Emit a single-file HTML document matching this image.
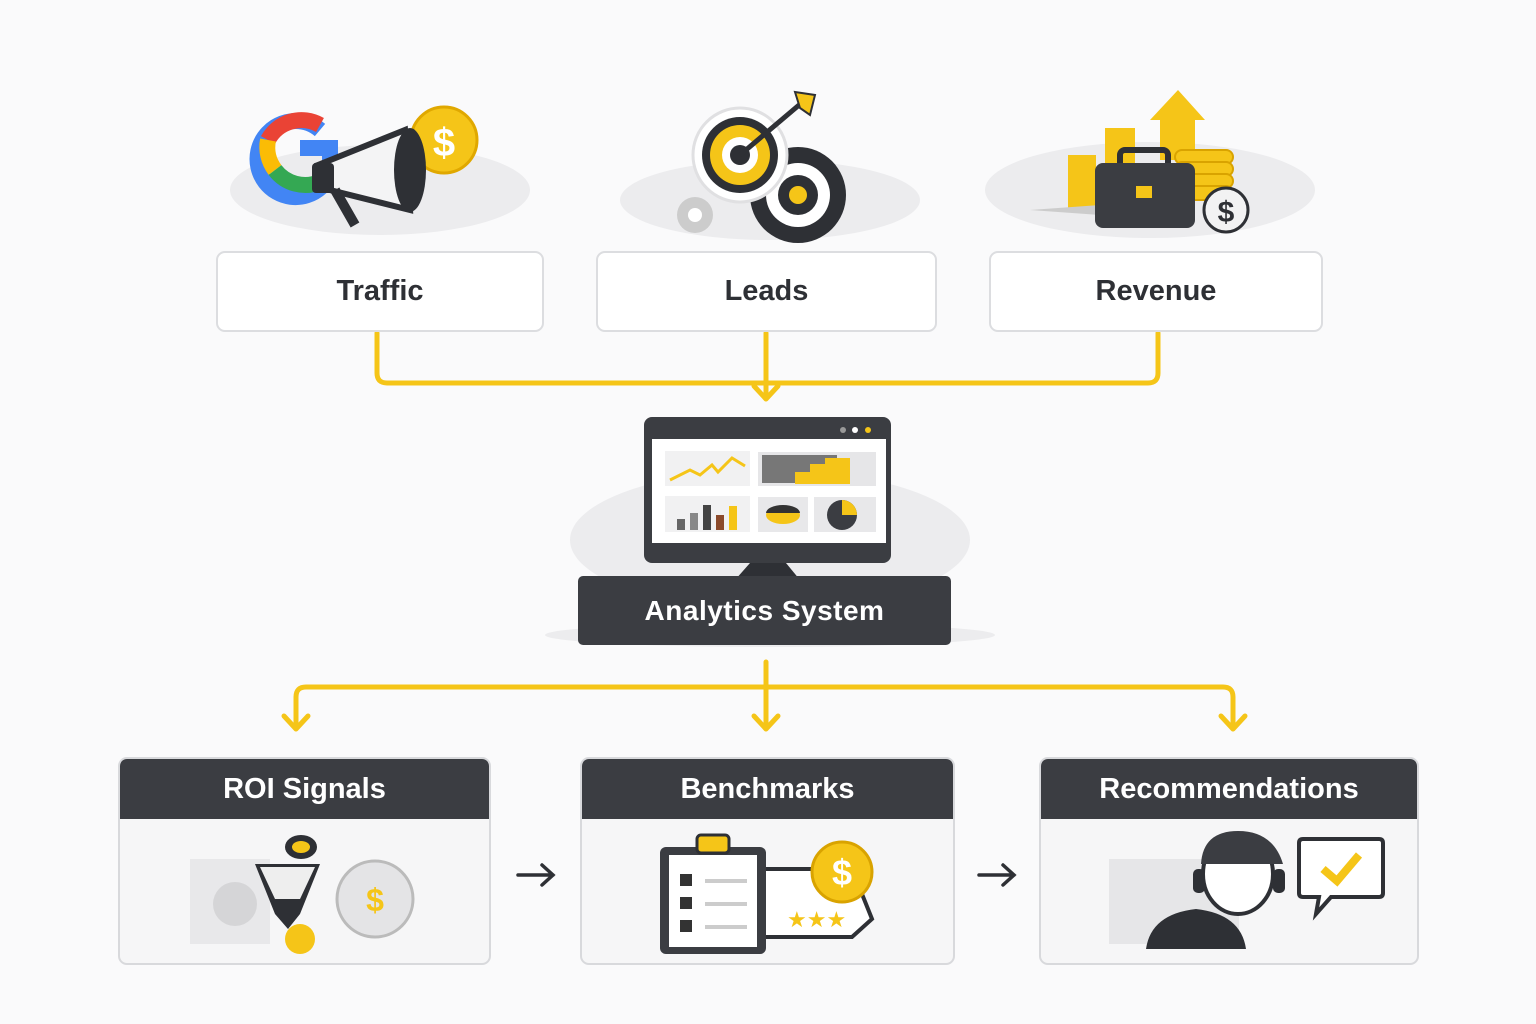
<!DOCTYPE html>
<html><head><meta charset="utf-8"><style>
body{margin:0;width:1536px;height:1024px;background:#fafafb;position:relative;overflow:hidden;font-family:"Liberation Sans",sans-serif}
.box{position:absolute;background:#fff;border:2px solid #dcdde0;border-radius:9px;box-sizing:border-box;display:flex;align-items:center;justify-content:center;font-size:29px;font-weight:bold;color:#2e3035}
.card{position:absolute;background:#f6f6f7;border:2px solid #d8d9dc;border-radius:9px;box-sizing:border-box;overflow:hidden}
.card .h{height:60px;background:#3b3d42;color:#fff;font-size:29px;font-weight:bold;display:flex;align-items:center;justify-content:center}
svg{position:absolute;left:0;top:0}
</style></head><body>
<svg width="1536" height="1024" viewBox="0 0 1536 1024">
<!-- clouds -->
<g fill="#ececee">
<ellipse cx="380" cy="190" rx="150" ry="45"/><ellipse cx="770" cy="200" rx="150" ry="40"/><ellipse cx="1150" cy="190" rx="165" ry="48"/>
<ellipse cx="770" cy="540" rx="200" ry="70"/><ellipse cx="770" cy="635" rx="225" ry="12"/>
</g>
<!-- connectors -->
<g fill="none" stroke="#f5c518" stroke-width="5" stroke-linecap="round" stroke-linejoin="round">
<path d="M377 333 V373 Q377 383 387 383 H1148 Q1158 383 1158 373 V333"/>
<path d="M766 333 V398"/><path d="M754 386 L766 399 L778 386"/>
<path d="M766 662 V728"/><path d="M754 716 L766 729 L778 716"/>
<path d="M296 727 V697 Q296 687 306 687 H1223 Q1233 687 1233 697 V727"/>
<path d="M284 716 L296 729 L308 716"/><path d="M1221 716 L1233 729 L1245 716"/>
</g>
<g stroke="#2e3035" stroke-width="3.5" fill="none" stroke-linecap="round"><path d="M518 875 H553 M542 865 L553 875 L542 885"/><path d="M979 875 H1014 M1003 865 L1014 875 L1003 885"/></g>
<!-- traffic icon -->
<path d="M320 130 A38 38 0 1 0 330 175 L330 148 H300" fill="none" stroke="#4285f4" stroke-width="16"/>
<path d="M320 125 A38 38 0 0 0 268 140" fill="none" stroke="#ea4335" stroke-width="16"/>
<path d="M268 140 A38 38 0 0 0 275 170" fill="none" stroke="#fbbc05" stroke-width="16"/>
<path d="M275 170 A38 38 0 0 0 320 182" fill="none" stroke="#34a853" stroke-width="16"/>
<circle cx="444" cy="140" r="33" fill="#f5c518" stroke="#e0a800" stroke-width="3"/><text x="444" y="156" font-size="40" font-weight="bold" fill="#fff" text-anchor="middle">$</text>
<path d="M318 165 L405 130 L410 210 L330 190 Z" fill="#f4f4f5" stroke="#2e3035" stroke-width="6"/>
<ellipse cx="410" cy="170" rx="16" ry="42" fill="#2e3035"/><path d="M335 190 L355 225" stroke="#2e3035" stroke-width="10"/><rect x="312" y="163" width="22" height="30" fill="#2e3035" rx="4"/>
<!-- leads icon -->
<circle cx="798" cy="195" r="48" fill="#2e3035"/><circle cx="798" cy="195" r="32" fill="#fff"/><circle cx="798" cy="195" r="20" fill="#2e3035"/><circle cx="798" cy="195" r="9" fill="#f5c518"/>
<circle cx="740" cy="155" r="47" fill="#fff" stroke="#e0e0e2" stroke-width="3"/><circle cx="740" cy="155" r="38" fill="#2e3035"/><circle cx="740" cy="155" r="30" fill="#f5c518"/><circle cx="740" cy="155" r="18" fill="#fff"/><circle cx="740" cy="155" r="10" fill="#2e3035"/>
<path d="M740 155 L805 100" stroke="#2e3035" stroke-width="5"/><path d="M795 92 L815 95 L810 115 L800 108 Z" fill="#f5c518" stroke="#2e3035" stroke-width="2"/>
<circle cx="695" cy="215" r="18" fill="#ccc"/><circle cx="695" cy="215" r="7" fill="#fff"/>
<!-- revenue icon -->
<rect x="1068" y="155" width="28" height="55" fill="#f5c518"/><rect x="1105" y="128" width="30" height="60" fill="#f5c518"/>
<path d="M1160 160 V120 H1150 L1178 90 L1205 120 H1195 V160 Z" fill="#f5c518"/>
<g fill="#f5c518" stroke="#d9a300" stroke-width="2"><rect x="1175" y="150" width="58" height="14" rx="7"/><rect x="1175" y="162" width="58" height="14" rx="7"/><rect x="1175" y="174" width="58" height="14" rx="7"/><rect x="1175" y="186" width="58" height="14" rx="7"/></g>
<path d="M1030 210 L1100 205 L1100 215 Z" fill="#ccc"/>
<rect x="1120" y="150" width="48" height="20" rx="5" fill="none" stroke="#2e3035" stroke-width="6"/>
<rect x="1095" y="163" width="100" height="65" rx="8" fill="#3b3d42"/><rect x="1136" y="186" width="16" height="12" fill="#f5c518"/>
<circle cx="1226" cy="210" r="22" fill="#f2f2f3" stroke="#2e3035" stroke-width="3"/><text x="1226" y="222" font-size="30" font-weight="bold" fill="#2e3035" text-anchor="middle">$</text>
<!-- monitor -->
<rect x="644" y="417" width="247" height="146" rx="8" fill="#3b3d42"/>
<rect x="652" y="439" width="234" height="104" fill="#fff"/>
<circle cx="843" cy="430" r="3" fill="#999"/><circle cx="855" cy="430" r="3" fill="#fff"/><circle cx="868" cy="430" r="3" fill="#f5c518"/>
<rect x="665" y="451" width="85" height="35" fill="#f1f1f2"/><path d="M670 480 L690 470 L700 475 L712 465 L718 472 L732 458 L745 466" fill="none" stroke="#f5c518" stroke-width="3"/>
<rect x="758" y="452" width="118" height="34" fill="#e6e6e8"/><rect x="762" y="455" width="75" height="28" fill="#777"/><path d="M795 484 V472 H810 V464 H825 V458 H850 V484Z" fill="#f5c518"/>
<rect x="665" y="496" width="85" height="36" fill="#f1f1f2"/><rect x="677" y="519" width="8" height="11" fill="#666"/><rect x="690" y="513" width="8" height="17" fill="#888"/><rect x="703" y="505" width="8" height="25" fill="#444"/><rect x="716" y="515" width="8" height="15" fill="#8b4a2b"/><rect x="729" y="506" width="8" height="24" fill="#f5c518"/>
<rect x="758" y="497" width="50" height="35" fill="#e8e8ea"/><ellipse cx="783" cy="515" rx="17" ry="9" fill="#f5c518"/><path d="M766 513 A17 8 0 0 1 800 513" fill="#333"/>
<rect x="814" y="497" width="62" height="35" fill="#e8e8ea"/><circle cx="842" cy="515" r="15" fill="#3b3d42"/><path d="M842 515 V500 A15 15 0 0 1 857 515Z" fill="#f5c518"/>
<path d="M750 563 H786 L800 580 H735 Z" fill="#2e3035"/>
</svg>
<div class="box" style="left:216px;top:251px;width:328px;height:81px">Traffic</div>
<div class="box" style="left:596px;top:251px;width:341px;height:81px">Leads</div>
<div class="box" style="left:989px;top:251px;width:334px;height:81px">Revenue</div>
<div style="position:absolute;left:578px;top:576px;width:373px;height:69px;background:#3b3d42;border-radius:5px;color:#fff;font-size:28px;font-weight:bold;display:flex;align-items:center;justify-content:center;letter-spacing:0.5px">Analytics System</div>
<div class="card" style="left:118px;top:757px;width:373px;height:208px"><div class="h">ROI Signals</div>
<svg width="373" height="148" style="top:60px"><rect x="70" y="40" width="80" height="85" fill="#e8e8ea"/><path d="M135 45 H200 L180 95 L168 110 L155 95 Z" fill="#2e3035"/><path d="M140 48 H195 L180 80 H155Z" fill="#eee"/><ellipse cx="181" cy="28" rx="16" ry="12" fill="#2e3035"/><ellipse cx="181" cy="28" rx="9" ry="6" fill="#f5c518"/><circle cx="180" cy="120" r="15" fill="#f5c518"/><circle cx="255" cy="80" r="38" fill="#e4e4e6" stroke="#bbb" stroke-width="3"/><text x="255" y="92" font-size="32" font-weight="bold" fill="#f5c518" text-anchor="middle">$</text><circle cx="115" cy="85" r="22" fill="#d5d5d7"/></svg></div>
<div class="card" style="left:580px;top:757px;width:375px;height:208px"><div class="h">Benchmarks</div>
<svg width="375" height="148" style="top:60px"><path d="M180 50 H270 L290 100 L270 118 H180Z" fill="#fff" stroke="#2e3035" stroke-width="4"/><rect x="78" y="28" width="106" height="107" rx="6" fill="#3b3d42"/><rect x="87" y="36" width="88" height="92" fill="#fff"/><rect x="115" y="16" width="32" height="18" rx="4" fill="#f5c518" stroke="#2e3035" stroke-width="3"/><g stroke="#ccc" stroke-width="4"><path d="M123 62 H165 M123 85 H165 M123 108 H165"/></g><g fill="#333"><rect x="98" y="55" width="12" height="12"/><rect x="98" y="78" width="12" height="12"/><rect x="98" y="101" width="12" height="12"/></g><text x="205" y="108" font-size="22" fill="#f5c518">★★★</text><circle cx="260" cy="53" r="30" fill="#f5c518" stroke="#d9a300" stroke-width="3"/><text x="260" y="66" font-size="36" font-weight="bold" fill="#fff" text-anchor="middle">$</text></svg></div>
<div class="card" style="left:1039px;top:757px;width:380px;height:208px"><div class="h">Recommendations</div>
<svg width="380" height="148" style="top:60px"><rect x="68" y="40" width="130" height="85" fill="#e6e6e8"/><path d="M105 130 Q110 95 155 90 Q200 95 205 130Z" fill="#2e3035"/><ellipse cx="197" cy="55" rx="35" ry="40" fill="#fff" stroke="#2e3035" stroke-width="4"/><path d="M160 45 Q162 12 197 12 Q232 12 242 45 Z" fill="#3b3d42"/><rect x="152" y="50" width="12" height="24" rx="5" fill="#2e3035"/><rect x="232" y="50" width="12" height="24" rx="5" fill="#2e3035"/><path d="M262 20 H338 Q342 20 342 24 V74 Q342 78 338 78 H290 L275 95 L278 78 H262 Q258 78 258 74 V24 Q258 20 262 20Z" fill="#fff" stroke="#2e3035" stroke-width="4"/><path d="M282 50 L296 62 L318 36" fill="none" stroke="#f5c518" stroke-width="8"/></svg></div>
</body></html>
